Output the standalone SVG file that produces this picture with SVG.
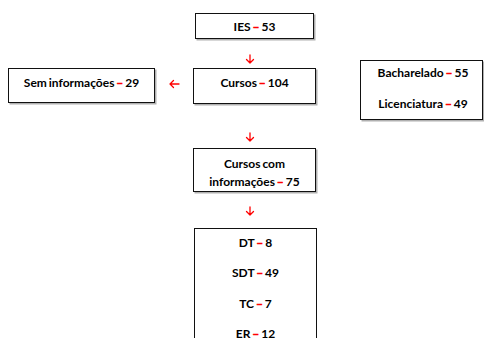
<svg xmlns="http://www.w3.org/2000/svg" width="484" height="338" viewBox="0 0 484 338">
<style>
.box{fill:#fff;stroke:#111;stroke-width:1}
.sh{fill:#b0b0b0}
text{font-family:Lato,"Open Sans","Liberation Sans",sans-serif;font-weight:bold;font-size:12px;fill:#000;text-anchor:middle;word-spacing:-1px}
.r{fill:#ff0000;stroke:#ff0000;stroke-width:0.5}
.arr{fill:none;stroke:#ff0000;stroke-width:1.3;stroke-linecap:round;stroke-linejoin:round}
</style>
<rect width="484" height="338" fill="#fff"/>
<g id="connectors">
<path class="arr" d="M250 55V63M246.5 59.5L250 63L253.5 59.5"/>
<path class="arr" d="M179 84H170M173.5 80.5L170 84L173.5 87.5"/>
<path class="arr" d="M250 133V141M246.5 137.5L250 141L253.5 137.5"/>
<path class="arr" d="M250 207V215M246.5 211.5L250 215L253.5 211.5"/>
</g>
<g id="ies">
<rect class="sh" x="196.5" y="14.5" width="119" height="26"/>
<rect class="box" x="195.5" y="13.5" width="118" height="25"/>
<text x="254.5" y="30.5">IES <tspan class="r">–</tspan> 53</text>
</g>
<g id="cursos">
<rect class="sh" x="194.5" y="69.5" width="123" height="36"/>
<rect class="box" x="193.5" y="68.5" width="122" height="35"/>
<text x="254.5" y="86.5">Cursos <tspan class="r">–</tspan> 104</text>
</g>
<g id="sem">
<rect class="sh" x="9.5" y="69.5" width="147" height="35"/>
<rect class="box" x="8.5" y="68.5" width="146" height="34"/>
<text x="81.5" y="86.5">Sem informações <tspan class="r">–</tspan> 29</text>
</g>
<g id="grau">
<rect class="sh" x="361.5" y="61.5" width="123" height="60"/>
<rect class="box" x="360.5" y="60.5" width="122" height="59"/>
<text x="423" y="76.5">Bacharelado <tspan class="r">–</tspan> 55</text>
<text x="423" y="107.5">Licenciatura <tspan class="r">–</tspan> 49</text>
</g>
<g id="cursoscom">
<rect class="sh" x="194.5" y="149.5" width="123" height="44"/>
<rect class="box" x="193.5" y="148.5" width="122" height="43"/>
<text x="254.5" y="167.5">Cursos com</text>
<text x="254.5" y="185.5">informações <tspan class="r">–</tspan> 75</text>
</g>
<g id="tipos">
<rect class="box" x="194.5" y="228.5" width="122" height="120"/>
<text x="255.5" y="246.5">DT <tspan class="r">–</tspan> 8</text>
<text x="255.5" y="276.5">SDT <tspan class="r">–</tspan> 49</text>
<text x="255.5" y="307.5">TC <tspan class="r">–</tspan> 7</text>
<text x="255.5" y="337.5">ER <tspan class="r">–</tspan> 12</text>
</g>
</svg>
